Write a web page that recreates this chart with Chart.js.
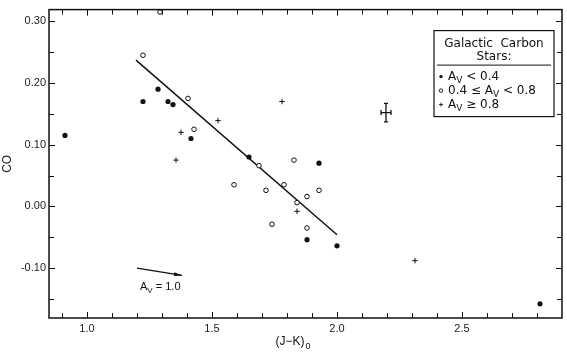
<!DOCTYPE html>
<html>
<head>
<meta charset="utf-8">
<script src="https://cdn.jsdelivr.net/npm/chart.js@4.4.1/dist/chart.umd.min.js"></script>
<style>
  html, body { margin: 0; padding: 0; background: #fff; }
  #wrap { width: 567px; height: 360px; }
</style>
</head>
<body>
<div id="wrap"><canvas id="coChart" width="567" height="360"></canvas></div>
<script>
// Galactic carbon stars, (J-K)0 vs CO
// A_V < 0.4 (filled)
const lowAvJK = [0.912, 1.224, 1.284, 1.324, 1.344, 1.416, 1.648, 1.928, 1.880, 2.000, 2.812];
const lowAvCO = [0.115, 0.170, 0.190, 0.170, 0.165, 0.110, 0.080, 0.070, -0.054, -0.064, -0.158];
// 0.4 <= A_V < 0.8 (open)
const midAvJK = [1.224, 1.292, 1.404, 1.428, 1.828, 1.688, 1.588, 1.716, 1.788, 1.880, 1.928, 1.840, 1.740, 1.880];
const midAvCO = [0.245, 0.315, 0.175, 0.125, 0.075, 0.066, 0.035, 0.026, 0.035, 0.016, 0.026, 0.006, -0.029, -0.035];
// A_V >= 0.8 (plus)
const highAvJK = [1.376, 1.356, 1.524, 1.780, 1.840, 2.312];
const highAvCO = [0.120, 0.075, 0.139, 0.170, -0.008, -0.088];
// fitted line
const fitJK = [1.196, 2.000];
const fitCO = [0.237, -0.046];
// typical error bar
const errJK = 2.196, errCO = 0.152, errDJK = 0.02, errDCO = 0.015;
// reddening vector A_V = 1.0
const arrowJK = [1.20, 1.38];
const arrowCO = [-0.100, -0.112];
const arrowLabelAt = [1.212, -0.131];

// axes
const xTickValues = [0.9, 1.0, 1.1, 1.2, 1.3, 1.4, 1.5, 1.6, 1.7, 1.8, 1.9, 2.0, 2.1, 2.2, 2.3, 2.4, 2.5, 2.6, 2.7, 2.8];
const xLabelValues = [1.0, 1.5, 2.0, 2.5];
const yTickValues = [-0.15, -0.10, -0.05, 0.00, 0.05, 0.10, 0.15, 0.20, 0.25, 0.30];
const yLabelValues = [-0.10, 0.00, 0.10, 0.20, 0.30];

const FONT = "'Liberation Sans', 'DejaVu Sans', sans-serif";
const LFONT = "'DejaVu Sans', sans-serif";
const INK = '#111';

const has = (arr, v) => arr.some(a => Math.abs(a - v) < 1e-6);
const pts = (xs, ys) => xs.map((x, i) => ({ x: x, y: ys[i] }));

// draws "A" with subscript V, returns x after it
function drawAv(ctx, x, y, size, fam) {
    ctx.font = size + 'px ' + fam;
    ctx.fillText('A', x, y);
    x += ctx.measureText('A').width;
    ctx.font = Math.round(size * 0.72) + 'px ' + fam;
    ctx.fillText('V', x, y + size * 0.3);
    x += ctx.measureText('V').width;
    ctx.font = size + 'px ' + fam;
    return x;
}

const frameTicks = {
    id: 'frameTicks',
    afterDatasetsDraw(chart) {
        const { ctx, chartArea: a, scales: { x, y } } = chart;
        ctx.save();
        ctx.strokeStyle = INK;
        ctx.lineWidth = 1.5;
        ctx.strokeRect(a.left, a.top, a.right - a.left, a.bottom - a.top);
        ctx.lineWidth = 1;
        ctx.beginPath();
        xTickValues.forEach(v => {
            const px = Math.round(x.getPixelForValue(v)) + 0.5;
            const len = has(xLabelValues, v) ? 6 : 5;
            ctx.moveTo(px, a.bottom); ctx.lineTo(px, a.bottom - len);
            ctx.moveTo(px, a.top); ctx.lineTo(px, a.top + len);
        });
        yTickValues.forEach(v => {
            const py = Math.round(y.getPixelForValue(v)) + 0.5;
            const len = has(yLabelValues, v) ? 6 : 5;
            ctx.moveTo(a.left, py); ctx.lineTo(a.left + len, py);
            ctx.moveTo(a.right, py); ctx.lineTo(a.right - len, py);
        });
        ctx.stroke();

        // error bar
        const ex = x.getPixelForValue(errJK), ey = y.getPixelForValue(errCO);
        const x0 = x.getPixelForValue(errJK - errDJK), x1 = x.getPixelForValue(errJK + errDJK);
        const y0 = y.getPixelForValue(errCO + errDCO), y1 = y.getPixelForValue(errCO - errDCO);
        ctx.lineWidth = 1.3;
        ctx.beginPath();
        ctx.moveTo(x0, ey); ctx.lineTo(x1, ey);
        ctx.moveTo(ex, y0); ctx.lineTo(ex, y1);
        ctx.moveTo(x0, ey - 2.5); ctx.lineTo(x0, ey + 2.5);
        ctx.moveTo(x1, ey - 2.5); ctx.lineTo(x1, ey + 2.5);
        ctx.moveTo(ex - 2, y0); ctx.lineTo(ex + 2, y0);
        ctx.moveTo(ex - 2, y1); ctx.lineTo(ex + 2, y1);
        ctx.stroke();

        // arrow head
        const ax0 = x.getPixelForValue(arrowJK[0]), ay0 = y.getPixelForValue(arrowCO[0]);
        const ax1 = x.getPixelForValue(arrowJK[1]), ay1 = y.getPixelForValue(arrowCO[1]);
        const ang = Math.atan2(ay1 - ay0, ax1 - ax0);
        ctx.fillStyle = INK;
        ctx.beginPath();
        ctx.moveTo(ax1, ay1);
        ctx.lineTo(ax1 - 8 * Math.cos(ang) + 2 * Math.sin(ang), ay1 - 8 * Math.sin(ang) - 2 * Math.cos(ang));
        ctx.lineTo(ax1 - 8 * Math.cos(ang) - 2 * Math.sin(ang), ay1 - 8 * Math.sin(ang) + 2 * Math.cos(ang));
        ctx.closePath();
        ctx.fill();

        // arrow label
        ctx.textBaseline = 'middle';
        ctx.textAlign = 'left';
        const ly = y.getPixelForValue(arrowLabelAt[1]);
        let tx = drawAv(ctx, x.getPixelForValue(arrowLabelAt[0]), ly, 11, FONT);
        ctx.fillText(' = 1.0', tx, ly);

        // x axis title with subscript
        ctx.font = '12px ' + FONT;
        const tBase = a.bottom + 24;
        const tStart = (a.left + a.right) / 2 - 30;
        ctx.fillText('(J\u2212K)', tStart, tBase);
        const tw = ctx.measureText('(J\u2212K)').width;
        ctx.font = '9px ' + FONT;
        ctx.fillText('0', tStart + tw + 1, tBase + 5);
        ctx.restore();
    }
};

const legendBox = {
    id: 'legendBox',
    afterDraw(chart) {
        const { ctx, chartArea: a } = chart;
        const bx = a.right - 128, by = a.top + 21, bw = 120, bh = 86;
        ctx.save();
        ctx.fillStyle = '#fff';
        ctx.fillRect(bx, by, bw, bh);
        ctx.strokeStyle = INK;
        ctx.lineWidth = 1.2;
        ctx.strokeRect(bx, by, bw, bh);
        ctx.fillStyle = INK;
        ctx.textBaseline = 'middle';
        ctx.textAlign = 'center';
        ctx.font = '12px ' + LFONT;
        ctx.fillText('Galactic  Carbon', bx + bw / 2, by + 13);
        ctx.fillText('Stars:', bx + bw / 2, by + 26);
        ctx.lineWidth = 1;
        ctx.beginPath();
        ctx.moveTo(bx + 3, by + 34.5); ctx.lineTo(bx + bw - 3, by + 34.5);
        ctx.stroke();
        ctx.textAlign = 'left';
        const mx = bx + 7, tx0 = bx + 14;
        const rows = [by + 46, by + 60, by + 74];
        // filled
        ctx.beginPath(); ctx.arc(mx, rows[0], 1.7, 0, Math.PI * 2); ctx.fill();
        let t = drawAv(ctx, tx0, rows[0], 12, LFONT);
        ctx.fillText(' < 0.4', t, rows[0]);
        // open
        ctx.lineWidth = 0.9;
        ctx.beginPath(); ctx.arc(mx, rows[1], 1.8, 0, Math.PI * 2); ctx.stroke();
        ctx.font = '12px ' + LFONT;
        ctx.fillText('0.4 \u2264 ', tx0, rows[1]);
        t = drawAv(ctx, tx0 + ctx.measureText('0.4 \u2264 ').width, rows[1], 12, LFONT);
        ctx.fillText(' < 0.8', t, rows[1]);
        // plus
        ctx.beginPath();
        ctx.moveTo(mx - 2, rows[2]); ctx.lineTo(mx + 2, rows[2]);
        ctx.moveTo(mx, rows[2] - 2); ctx.lineTo(mx, rows[2] + 2);
        ctx.stroke();
        t = drawAv(ctx, tx0, rows[2], 12, LFONT);
        ctx.fillText(' \u2265 0.8', t, rows[2]);
        ctx.restore();
    }
};

const ctx = document.getElementById('coChart').getContext('2d');
new Chart(ctx, {
    type: 'scatter',
    data: {
        datasets: [
            {
                label: 'A_V < 0.4',
                data: pts(lowAvJK, lowAvCO),
                pointStyle: 'circle',
                pointRadius: 2.6,
                backgroundColor: INK,
                borderColor: INK,
                borderWidth: 0
            },
            {
                label: '0.4 <= A_V < 0.8',
                data: pts(midAvJK, midAvCO),
                pointStyle: 'circle',
                pointRadius: 2.3,
                backgroundColor: '#fff',
                borderColor: INK,
                borderWidth: 1
            },
            {
                label: 'A_V >= 0.8',
                data: pts(highAvJK, highAvCO),
                pointStyle: 'cross',
                pointRadius: 2.7,
                borderColor: INK,
                borderWidth: 1
            },
            {
                label: 'fit',
                data: pts(fitJK, fitCO),
                showLine: true,
                pointRadius: 0,
                borderColor: INK,
                borderWidth: 1.5
            },
            {
                label: 'reddening',
                data: pts(arrowJK, arrowCO),
                showLine: true,
                pointRadius: 0,
                borderColor: INK,
                borderWidth: 1.3
            }
        ]
    },
    options: {
        responsive: false,
        animation: false,
        layout: { padding: { top: 6, right: 5, left: 0, bottom: 0 } },
        plugins: {
            legend: { display: false },
            tooltip: { enabled: false }
        },
        scales: {
            x: {
                type: 'linear',
                min: 0.848,
                max: 2.9,
                afterBuildTicks: s => { s.ticks = xTickValues.map(v => ({ value: v })); },
                afterFit: s => { s.height = 42; },
                grid: { display: false, drawTicks: false },
                border: { display: false },
                ticks: {
                    autoSkip: false,
                    maxRotation: 0,
                    padding: 4,
                    color: '#222',
                    font: { family: FONT, size: 11 },
                    callback: v => has(xLabelValues, v) ? v.toFixed(1) : ''
                }
            },
            y: {
                type: 'linear',
                min: -0.181,
                max: 0.319,
                afterBuildTicks: s => { s.ticks = yTickValues.map(v => ({ value: v })); },
                afterFit: s => { s.width = 49; },
                grid: { display: false, drawTicks: false },
                border: { display: false },
                ticks: {
                    autoSkip: false,
                    padding: 3,
                    color: '#222',
                    font: { family: FONT, size: 11 },
                    callback: v => has(yLabelValues, v) ? v.toFixed(2) : ''
                },
                title: {
                    display: true,
                    text: 'CO',
                    color: '#222',
                    font: { family: FONT, size: 12 },
                    padding: { top: 0, bottom: 0 }
                }
            }
        }
    },
    plugins: [frameTicks, legendBox]
});
</script>
</body>
</html>
